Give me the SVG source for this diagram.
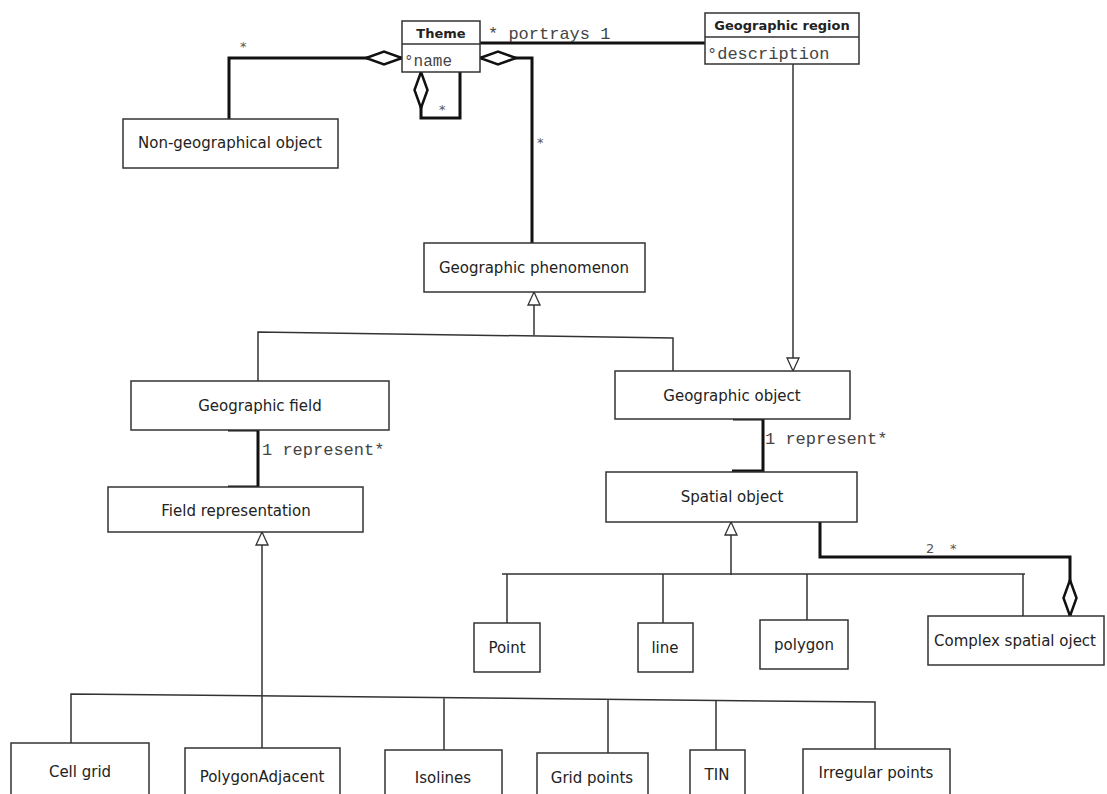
<svg xmlns="http://www.w3.org/2000/svg" width="1107" height="794" viewBox="0 0 1107 794">
<style>
.box{fill:#fff;stroke:#333;stroke-width:1.5}
.lbl{font-family:"DejaVu Sans",Verdana,sans-serif;font-size:15px;fill:#222;text-anchor:middle}
.ttl{font-family:"DejaVu Sans",Verdana,sans-serif;font-size:13px;font-weight:bold;fill:#222;text-anchor:middle}
.mono{font-family:"Liberation Mono","Courier New",monospace;font-size:17px;fill:#444}
.star{font-family:"DejaVu Sans",sans-serif;font-size:13px;fill:#555}
.thick{fill:none;stroke:#111;stroke-width:3}
.thin{fill:none;stroke:#333;stroke-width:1.5}
</style>
<defs>
<marker id="agg" markerUnits="userSpaceOnUse" viewBox="-2 -9 42 18" markerWidth="42" markerHeight="18" refX="0" refY="0" orient="auto" overflow="visible">
<path d="M0,0 L18,-6.5 L36,0 L18,6.5 Z" fill="#fff" stroke="#111" stroke-width="2.5"/>
</marker>
<marker id="gen" markerUnits="userSpaceOnUse" viewBox="-2 -8 17 16" markerWidth="17" markerHeight="16" refX="0" refY="0" orient="auto" overflow="visible">
<path d="M0,0 L13,-6 L13,6 Z" fill="#fff" stroke="#333" stroke-width="1.3"/>
</marker>
</defs>

<g id="connectors">
<path class="thick" d="M402,58 L229,58 L229,119" marker-start="url(#agg)"/>
<path class="thick" d="M421,72 L421,118 L460,118 L460,72" marker-start="url(#agg)"/>
<path class="thick" d="M480,58 L532,58 L532,243" marker-start="url(#agg)"/>
<path class="thick" d="M480,43 L705,43"/>
<path class="thin" d="M793,371 L793,64" marker-start="url(#gen)"/>
<path class="thin" d="M534,292 L534,335" marker-start="url(#gen)"/>
<path class="thin" d="M258,381 L258,332 L673,338 L673,371"/>
<path class="thick" d="M228,430 L258,430 L258,487 L228,487"/>
<path class="thick" d="M733,419 L763,419 L763,471 L732,471"/>
<path class="thin" d="M731,522 L731,575" marker-start="url(#gen)"/>
<path class="thin" d="M502,574 L1025,574 M507,574 L507,623 M663,574 L663,623 M807,574 L807,620 M1023,574 L1023,616"/>
<path class="thick" d="M1070,616 L1070,557 L820,557 L820,522" marker-start="url(#agg)"/>
<path class="thin" d="M262,532 L262,748" marker-start="url(#gen)"/>
<path class="thin" d="M71,743 L71,694 L875,702 L875,749 M444,697.7 L444,750 M608,699.3 L608,753 M716,700.4 L716,750"/>
<text class="star" x="240" y="51">*</text>
<text class="star" x="439" y="114">*</text>
<text class="star" x="537" y="147">*</text>
<text class="mono" x="488" y="39">* portrays 1</text>
<text class="mono" x="262" y="455">1 represent*</text>
<text class="mono" x="765" y="444">1 represent*</text>
<text class="star" x="926" y="553">2</text>
<text class="star" x="950" y="553">*</text>
</g>

<g id="theme">
<rect class="box" x="402" y="21" width="78" height="51"/>
<line x1="402" y1="44" x2="480" y2="44" stroke="#333" stroke-width="1.5"/>
<text class="ttl" x="441" y="38">Theme</text>
<text class="mono" x="404" y="66" style="font-size:16px">°name</text>
</g>

<g id="geographic-region">
<rect class="box" x="705" y="13" width="154" height="51"/>
<line x1="705" y1="37" x2="859" y2="37" stroke="#333" stroke-width="1.5"/>
<text class="ttl" x="782" y="30">Geographic region</text>
<text class="mono" x="707" y="59">°description</text>
</g>

<g id="non-geographical-object">
<rect class="box" x="123" y="119" width="215" height="49"/>
<text class="lbl" x="230" y="148">Non-geographical object</text>
</g>

<g id="geographic-phenomenon">
<rect class="box" x="424" y="243" width="221" height="49"/>
<text class="lbl" x="534" y="273">Geographic phenomenon</text>
</g>

<g id="geographic-field">
<rect class="box" x="131" y="381" width="258" height="49"/>
<text class="lbl" x="260" y="411">Geographic field</text>
</g>

<g id="geographic-object">
<rect class="box" x="615" y="371" width="235" height="48"/>
<text class="lbl" x="732" y="401">Geographic object</text>
</g>

<g id="field-representation">
<rect class="box" x="108" y="487" width="255" height="45"/>
<text class="lbl" x="236" y="516">Field representation</text>
</g>

<g id="spatial-object">
<rect class="box" x="606" y="472" width="251" height="50"/>
<text class="lbl" x="732" y="502">Spatial object</text>
</g>

<g id="point">
<rect class="box" x="474" y="623" width="66" height="49"/>
<text class="lbl" x="507" y="653">Point</text>
</g>

<g id="line">
<rect class="box" x="638" y="623" width="55" height="49"/>
<text class="lbl" x="665" y="653">line</text>
</g>

<g id="polygon">
<rect class="box" x="760" y="620" width="88" height="49"/>
<text class="lbl" x="804" y="650">polygon</text>
</g>

<g id="complex-spatial-object">
<rect class="box" x="928" y="616" width="176" height="49"/>
<text class="lbl" x="1015" y="646">Complex spatial oject</text>
</g>

<g id="cell-grid">
<rect class="box" x="11" y="743" width="138" height="60"/>
<text class="lbl" x="80" y="777">Cell grid</text>
</g>

<g id="polygon-adjacent">
<rect class="box" x="185" y="748" width="155" height="60"/>
<text class="lbl" x="262" y="782">PolygonAdjacent</text>
</g>

<g id="isolines">
<rect class="box" x="385" y="750" width="117" height="60"/>
<text class="lbl" x="443" y="783">Isolines</text>
</g>

<g id="grid-points">
<rect class="box" x="537" y="753" width="111" height="60"/>
<text class="lbl" x="592" y="783">Grid points</text>
</g>

<g id="tin">
<rect class="box" x="690" y="750" width="55" height="60"/>
<text class="lbl" x="717" y="780">TIN</text>
</g>

<g id="irregular-points">
<rect class="box" x="803" y="749" width="147" height="60"/>
<text class="lbl" x="876" y="778">Irregular points</text>
</g>
</svg>
